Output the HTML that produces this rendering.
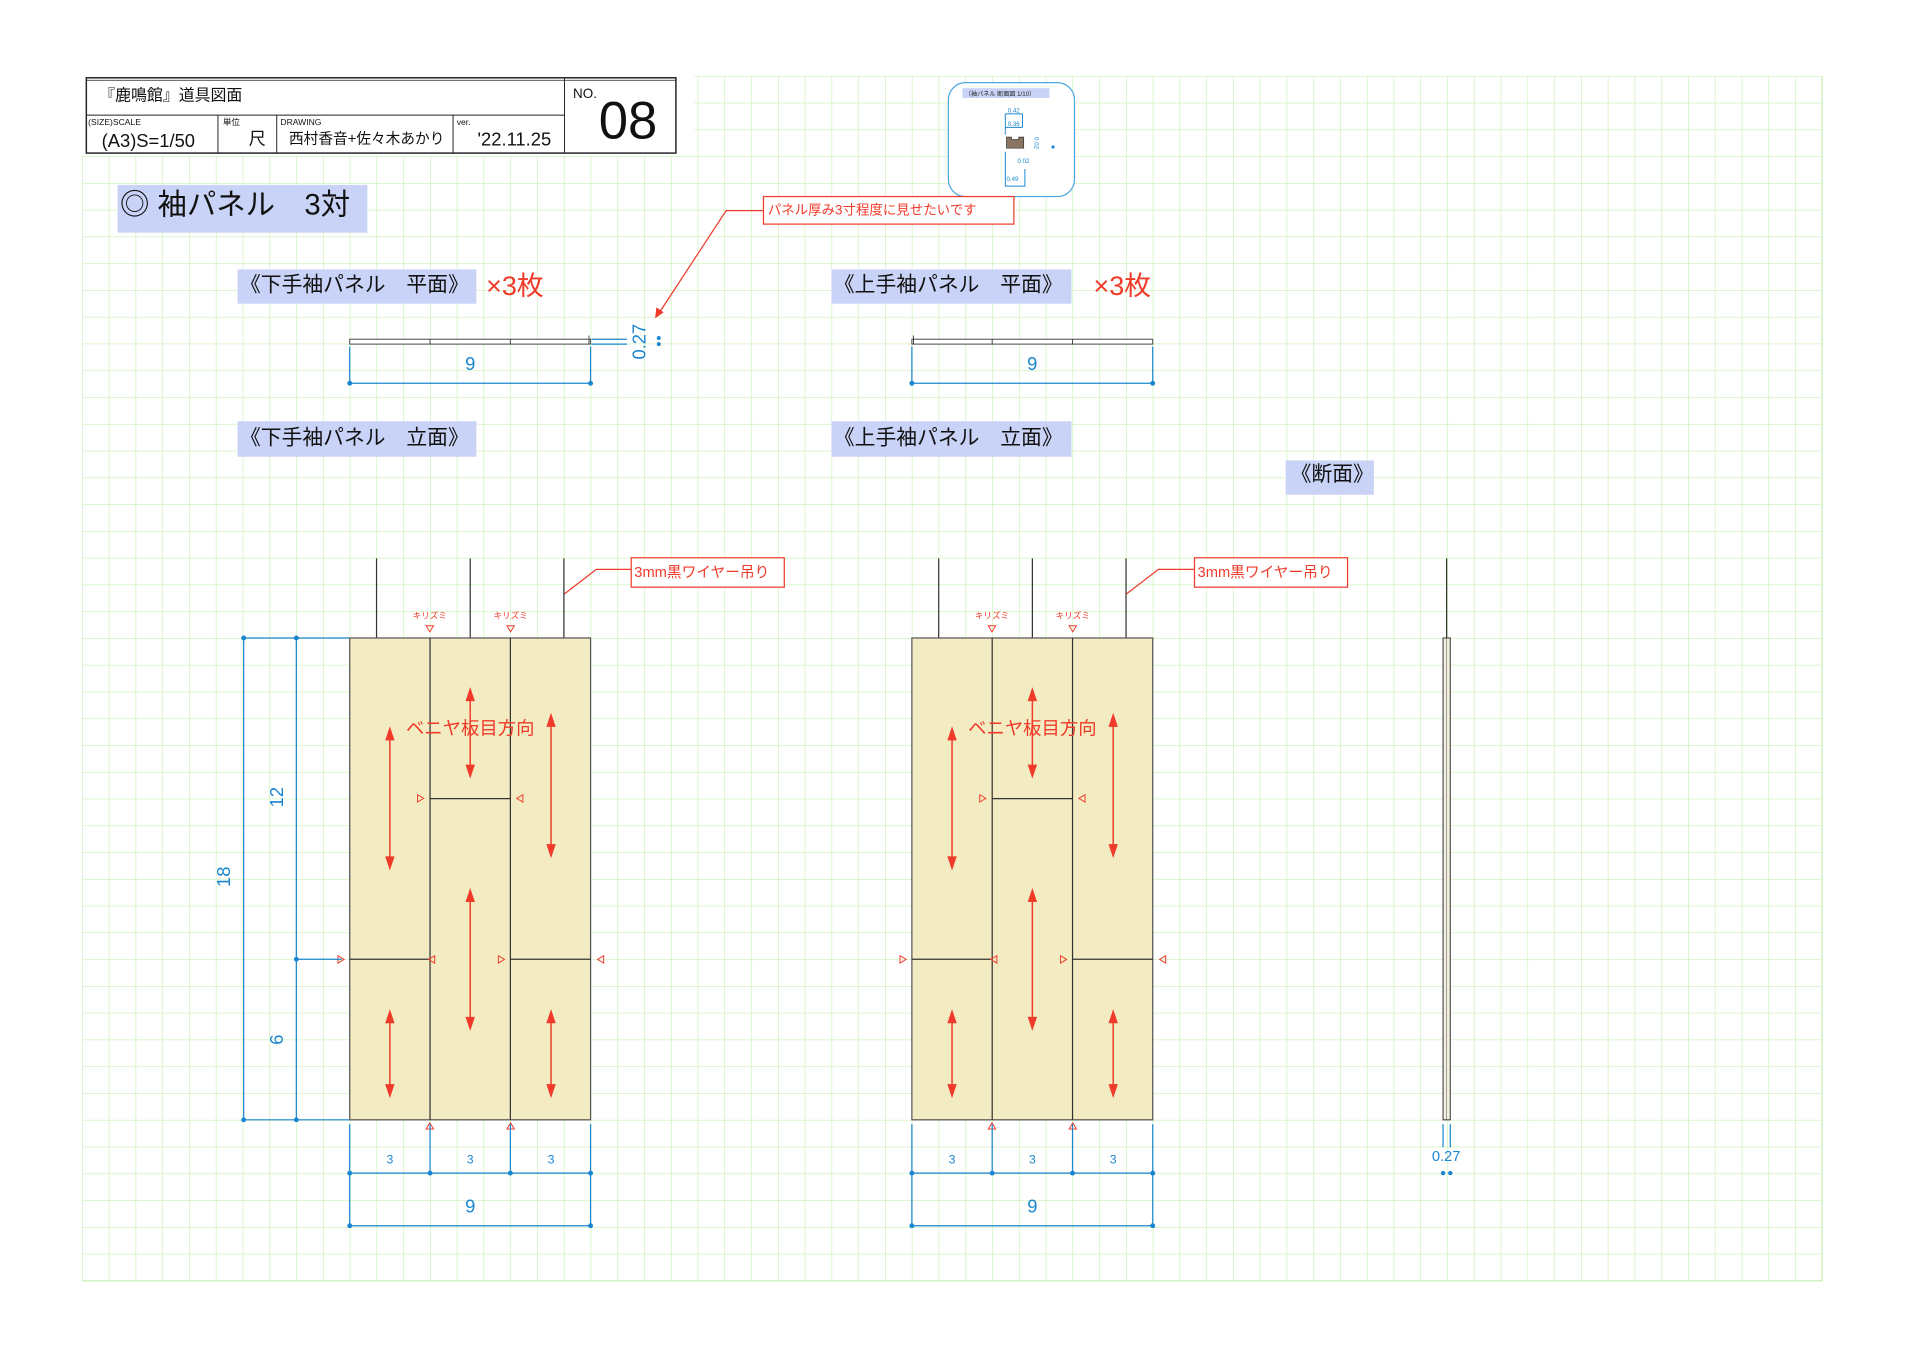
<!DOCTYPE html>
<html><head><meta charset="utf-8"><style>
html,body{margin:0;padding:0;background:#fff;}
svg{display:block;}
text{font-family:"Liberation Sans","Noto Sans CJK JP",sans-serif;}
</style></head><body>
<svg width="1920" height="1358" viewBox="0 0 1568 1109" xmlns="http://www.w3.org/2000/svg">
<defs>
<pattern id="g" x="67" y="62" width="21.86" height="21.86" patternUnits="userSpaceOnUse">
<path d="M0 0H21.86M0 0V21.86" stroke="#c6f0b2" stroke-width="1" fill="none"/>
</pattern>
</defs>
<rect x="0" y="0" width="1568" height="1109" fill="#fff"/>
<rect x="67" y="62" width="1421" height="984" fill="url(#g)"/>
<path d="M1488 62V1046H67" stroke="#c6f0b2" stroke-width="1" fill="none"/>

<!-- title block -->
<rect x="67" y="55" width="500" height="72" fill="#fff"/>
<rect x="70.5" y="63.5" width="481.5" height="61.5" fill="#fff" stroke="#222" stroke-width="1.2"/>
<line x1="70.5" y1="65.5" x2="552" y2="65.5" stroke="#222" stroke-width="0.6"/>
<line x1="70.5" y1="94" x2="461" y2="94" stroke="#222" stroke-width="0.8"/>
<line x1="461" y1="63.5" x2="461" y2="125" stroke="#222" stroke-width="0.8"/>
<line x1="178" y1="94" x2="178" y2="125" stroke="#222" stroke-width="0.8"/>
<line x1="226" y1="94" x2="226" y2="125" stroke="#222" stroke-width="0.8"/>
<line x1="370" y1="94" x2="370" y2="125" stroke="#222" stroke-width="0.8"/>
<text x="81" y="82" font-size="13" fill="#111">『鹿鳴館』道具図面</text>
<text x="72" y="102" font-size="7" fill="#111">(SIZE)SCALE</text>
<text x="182" y="102" font-size="7" fill="#111">単位</text>
<text x="229" y="102" font-size="7" fill="#111">DRAWING</text>
<text x="373" y="102" font-size="7" fill="#111">ver.</text>
<text x="83" y="120" font-size="15" fill="#111">(A3)S=1/50</text>
<text x="203" y="118" font-size="14" fill="#111">尺</text>
<text x="236" y="117" font-size="12" fill="#111">西村香音+佐々木あかり</text>
<text x="390" y="119" font-size="15" fill="#111">'22.11.25</text>
<text x="468" y="80" font-size="11" fill="#111">NO.</text>
<text x="489" y="113" font-size="43" fill="#111">08</text>

<!-- main title -->
<rect x="96" y="151" width="204" height="39" fill="#c9d3f7"/>
<text x="98" y="175" font-size="24" fill="#111">◎ 袖パネル　3対</text>

<!-- inset -->
<rect x="774.5" y="67.5" width="103" height="93" rx="14" fill="#fff" stroke="#4aa8e0" stroke-width="1"/>
<rect x="786" y="72" width="71" height="8" fill="#c9d3f7"/>
<text x="788" y="78.5" font-size="5" fill="#222">（袖パネル 断面図 1/10）</text>
<path d="M821 93H835M821 104H835M821 93V110M835 93V104" stroke="#1a86d0" stroke-width="0.8" fill="none"/>
<text x="823" y="92" font-size="5" fill="#1a86d0">0.42</text>
<text x="823" y="103" font-size="5" fill="#1a86d0">0.36</text>
<path d="M822 112h4v2h6v-2h4v9h-14z" fill="#8a7560" stroke="#333" stroke-width="0.6"/>
<text x="831" y="133" font-size="5" fill="#1a86d0">0.02</text>
<path d="M821 124V152H837V138" stroke="#1a86d0" stroke-width="0.8" fill="none"/>
<text x="822" y="148" font-size="5" fill="#1a86d0">0.49</text>
<text x="845" y="112" font-size="5" fill="#1a86d0" transform="rotate(90 845 112)">0.02</text>
<circle cx="860" cy="120" r="1.3" fill="#1a86d0"/>

<!-- red callout -->
<rect x="623.5" y="160.5" width="204.5" height="22.5" fill="#fff" stroke="#f03a2a" stroke-width="1"/>
<text x="627" y="175" font-size="11" fill="#f03a2a">パネル厚み3寸程度に見せたいです</text>
<path d="M623 172H593L538 256" stroke="#f03a2a" stroke-width="1" fill="none"/>
<path d="M535 260l1-9 6 4z" fill="#f03a2a"/>

<!-- section labels -->
<rect x="194" y="220" width="195" height="28" fill="#c9d3f7"/>
<text x="196" y="238" font-size="17" fill="#111">《下手袖パネル　平面》</text>
<text x="397" y="241" font-size="22" fill="#f03a2a">×3枚</text>
<rect x="679" y="220" width="196" height="28" fill="#c9d3f7"/>
<text x="681" y="238" font-size="17" fill="#111">《上手袖パネル　平面》</text>
<text x="893" y="241" font-size="22" fill="#f03a2a">×3枚</text>
<rect x="194" y="344" width="195" height="29" fill="#c9d3f7"/>
<text x="196" y="363" font-size="17" fill="#111">《下手袖パネル　立面》</text>
<rect x="679" y="344" width="196" height="29" fill="#c9d3f7"/>
<text x="681" y="363" font-size="17" fill="#111">《上手袖パネル　立面》</text>
<rect x="1050" y="376" width="72" height="28" fill="#c9d3f7"/>
<text x="1054" y="393" font-size="17" fill="#111">《断面》</text>

<!-- plan views -->
<g stroke="#444" stroke-width="0.8" fill="#fff">
<rect x="285.6" y="277" width="196.7" height="4"/>
<line x1="351.2" y1="277" x2="351.2" y2="281"/><line x1="416.8" y1="277" x2="416.8" y2="281"/>
<line x1="481" y1="274" x2="481" y2="281"/>
<rect x="744.7" y="277" width="196.7" height="4"/>
<line x1="810.3" y1="277" x2="810.3" y2="281"/><line x1="875.9" y1="277" x2="875.9" y2="281"/>
<line x1="746" y1="274" x2="746" y2="281"/>
</g>
<g stroke="#1a86d0" stroke-width="1" fill="none">
<path d="M285.6 283V313H482.3V283M483 277H512M483 281H512"/>
<path d="M744.7 283V313H941.4V283"/>
</g>
<g fill="#1a86d0">
<circle cx="285.6" cy="313" r="2"/><circle cx="482.3" cy="313" r="2"/>
<circle cx="744.7" cy="313" r="2"/><circle cx="941.4" cy="313" r="2"/>
<circle cx="538" cy="276" r="1.6"/><circle cx="538" cy="281" r="1.6"/>
</g>
<text x="384" y="302" font-size="15" fill="#1a86d0" text-anchor="middle">9</text>
<text x="843" y="302" font-size="15" fill="#1a86d0" text-anchor="middle">9</text>
<text x="527" y="279" font-size="15" fill="#1a86d0" text-anchor="middle" transform="rotate(-90 527 279)">0.27</text>

<!-- elevation panels -->
<g id="panelL">
<g stroke="#333" stroke-width="1">
<line x1="307.5" y1="456" x2="307.5" y2="521"/><line x1="384" y1="456" x2="384" y2="521"/><line x1="460.5" y1="456" x2="460.5" y2="521"/>
</g>
<rect x="285.6" y="521" width="196.7" height="393.5" fill="#f3ebc1" stroke="#555" stroke-width="1"/>
<g stroke="#333" stroke-width="1">
<line x1="351.2" y1="521" x2="351.2" y2="914.5"/><line x1="416.8" y1="521" x2="416.8" y2="914.5"/>
<line x1="351.2" y1="652.2" x2="416.8" y2="652.2"/>
<line x1="285.6" y1="783.4" x2="351.2" y2="783.4"/><line x1="416.8" y1="783.4" x2="482.3" y2="783.4"/>
</g>
<text x="351" y="505" font-size="7" fill="#f03a2a" text-anchor="middle">キリズミ</text>
<text x="417" y="505" font-size="7" fill="#f03a2a" text-anchor="middle">キリズミ</text>
<g fill="none" stroke="#f03a2a" stroke-width="0.8">
<path d="M348 511h6l-3 5z"/><path d="M414 511h6l-3 5z"/>
<path d="M341 649v6l5-3z"/><path d="M427 649v6l-5-3z"/>
<path d="M355 780.5v6l-5-3z"/><path d="M407 780.5v6l5-3z"/>
<path d="M348 922h6l-3-5z"/><path d="M414 922h6l-3-5z"/>
</g>
<g stroke="#f03a2a" stroke-width="1.2" fill="#f03a2a">
<line x1="318.4" y1="600" x2="318.4" y2="704"/><path d="M318.4 595l-3 9h6z M318.4 709l-3-9h6z"/>
<line x1="384" y1="568" x2="384" y2="629"/><path d="M384 563l-3 9h6z M384 634l-3-9h6z"/>
<line x1="450" y1="589" x2="450" y2="694"/><path d="M450 584l-3 9h6z M450 699l-3-9h6z"/>
<line x1="384" y1="732" x2="384" y2="835"/><path d="M384 727l-3 9h6z M384 840l-3-9h6z"/>
<line x1="318.4" y1="831" x2="318.4" y2="890"/><path d="M318.4 826l-3 9h6z M318.4 895l-3-9h6z"/>
<line x1="450" y1="831" x2="450" y2="890"/><path d="M450 826l-3 9h6z M450 895l-3-9h6z"/>
</g>
<text x="384" y="600" font-size="15" fill="#f03a2a" text-anchor="middle">ベニヤ板目方向</text>
<g stroke="#1a86d0" stroke-width="1" fill="none">
<path d="M285.6 918V1001H482.3V918M351.2 918V958M416.8 918V958M285.6 958H482.3"/>
</g>
<g fill="#1a86d0">
<circle cx="285.6" cy="958" r="2"/><circle cx="351.2" cy="958" r="2"/><circle cx="416.8" cy="958" r="2"/><circle cx="482.3" cy="958" r="2"/>
<circle cx="285.6" cy="1001" r="2"/><circle cx="482.3" cy="1001" r="2"/>
</g>
<text x="318.4" y="950" font-size="10" fill="#1a86d0" text-anchor="middle">3</text>
<text x="384" y="950" font-size="10" fill="#1a86d0" text-anchor="middle">3</text>
<text x="450" y="950" font-size="10" fill="#1a86d0" text-anchor="middle">3</text>
<text x="384" y="990" font-size="15" fill="#1a86d0" text-anchor="middle">9</text>
</g>
<use href="#panelL" x="459.1" y="0"/>
<g fill="none" stroke="#f03a2a" stroke-width="0.8">
<path d="M276 780.5v6l5-3z"/><path d="M493 780.5v6l-5-3z"/>
<path d="M735 780.5v6l5-3z"/><path d="M952 780.5v6l-5-3z"/>
</g>

<!-- wire callouts -->
<rect x="515.5" y="455.5" width="125" height="24" fill="#fff" stroke="#f03a2a" stroke-width="1"/>
<text x="518" y="471" font-size="12" fill="#f03a2a">3mm黒ワイヤー吊り</text>
<path d="M515 465H487L461 485" stroke="#f03a2a" stroke-width="1" fill="none"/>
<rect x="975.5" y="455.5" width="125" height="24" fill="#fff" stroke="#f03a2a" stroke-width="1"/>
<text x="978" y="471" font-size="12" fill="#f03a2a">3mm黒ワイヤー吊り</text>
<path d="M975 465H946L920 485" stroke="#f03a2a" stroke-width="1" fill="none"/>

<!-- left vertical dims -->
<g stroke="#1a86d0" stroke-width="1" fill="none">
<path d="M199 521V914.5M242 521V914.5M199 521H285M199 914.5H285M242 783.4H279"/>
</g>
<g fill="#1a86d0">
<circle cx="199" cy="521" r="2"/><circle cx="199" cy="914.5" r="2"/>
<circle cx="242" cy="521" r="2"/><circle cx="242" cy="914.5" r="2"/><circle cx="242" cy="783.4" r="2"/>
</g>
<text x="188" y="716" font-size="15" fill="#1a86d0" text-anchor="middle" transform="rotate(-90 188 716)">18</text>
<text x="231" y="651" font-size="15" fill="#1a86d0" text-anchor="middle" transform="rotate(-90 231 651)">12</text>
<text x="231" y="849" font-size="15" fill="#1a86d0" text-anchor="middle" transform="rotate(-90 231 849)">6</text>

<!-- section view -->
<line x1="1181.4" y1="456" x2="1181.4" y2="521" stroke="#333" stroke-width="1"/>
<rect x="1178.5" y="521" width="5.9" height="393.5" fill="#f3f0e0" stroke="#444" stroke-width="0.9"/>
<line x1="1181.4" y1="521" x2="1181.4" y2="914.5" stroke="#666" stroke-width="0.5"/>
<path d="M1178.5 918V937M1184.4 918V937" stroke="#1a86d0" stroke-width="1"/>
<text x="1181" y="948" font-size="12" fill="#1a86d0" text-anchor="middle">0.27</text>
<circle cx="1178.5" cy="958" r="1.8" fill="#1a86d0"/><circle cx="1184.4" cy="958" r="1.8" fill="#1a86d0"/>
</svg>
</body></html>
